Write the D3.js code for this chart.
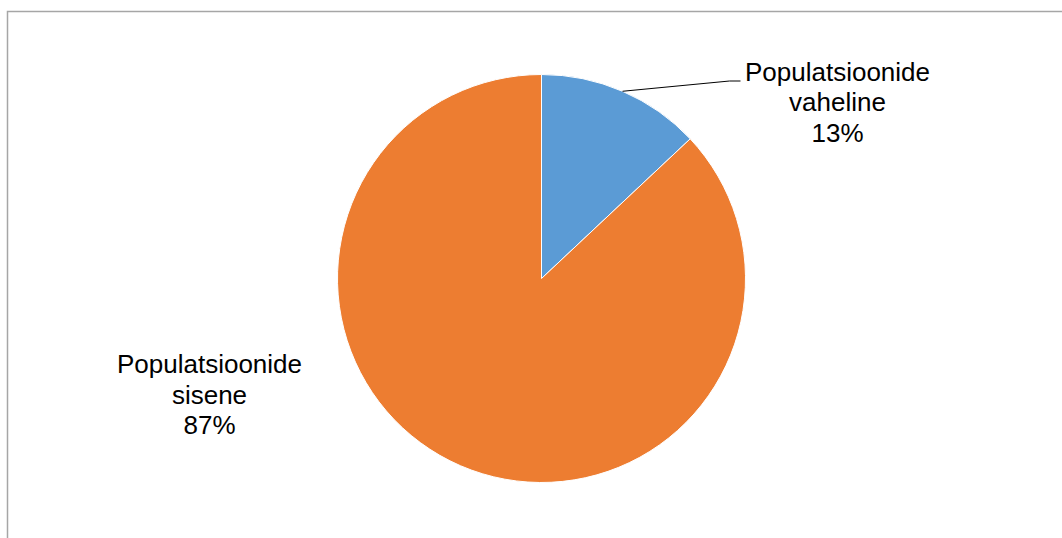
<!DOCTYPE html>
<html>
<head>
<meta charset="utf-8">
<script src="https://cdn.jsdelivr.net/npm/d3@7"></script>
<style>
  body { margin: 0; background: #fff; }
  svg { display: block; }
</style>
</head>
<body>
<svg id="viz"></svg>
<script>
// Slice data for the pie
const categories = ["Populatsioonide vaheline", "Populatsioonide sisene"];
const labelLines = [["Populatsioonide", "vaheline"], ["Populatsioonide", "sisene"]];
const values = [13, 87];
const colors = ["#5B9BD5", "#ED7D31"];

const width = 1062, height = 538;
const svg = d3.select("#viz").attr("width", width).attr("height", height);

// chart frame (extends past the right and bottom edges)
svg.append("path")
  .attr("d", "M7.5,545 V11.5 H1070")
  .attr("fill", "none")
  .attr("stroke", "#a6a6a6")
  .attr("stroke-width", 1.5);

const cx = 541.5, cy = 278.5, r = 204;
const g = svg.append("g").attr("transform", `translate(${cx},${cy})`);

const pie = d3.pie().sort(null).value(d => d);
const arcs = pie(values);
const arc = d3.arc().innerRadius(0).outerRadius(r);

g.selectAll("path.slice")
  .data(arcs)
  .enter().append("path")
  .attr("class", "slice")
  .attr("d", arc)
  .attr("fill", (d, i) => colors[i])
  .attr("stroke", "#fff")
  .attr("stroke-width", 1);

const total = d3.sum(values);
const pct = v => Math.round(v / total * 100) + "%";

// label positions (offsets relative to pie centre)
const labelPos = [[296, -198], [-332, 94.5]];

labelPos.forEach((p, i) => {
  const t = g.append("text")
    .attr("x", p[0]).attr("y", p[1])
    .attr("text-anchor", "middle")
    .attr("font-family", "Liberation Sans, Arial, sans-serif")
    .attr("font-size", 26)
    .attr("fill", "#000");
  const lines = labelLines[i].concat([pct(values[i])]);
  lines.forEach((s, k) => {
    t.append("tspan").attr("x", p[0]).attr("dy", k === 0 ? 0 : 30.5).text(s);
  });
});

// leader line for the small slice
const a0 = arcs[0];
const mid = (a0.startAngle + a0.endAngle) / 2;
const ax = Math.sin(mid) * r, ay = -Math.cos(mid) * r;
g.append("polyline")
  .attr("points", [[ax, ay], [188, -197.5], [199, -197.5]].map(d => d.join(",")).join(" "))
  .attr("fill", "none")
  .attr("stroke", "#000")
  .attr("stroke-width", 1);
</script>
</body>
</html>
